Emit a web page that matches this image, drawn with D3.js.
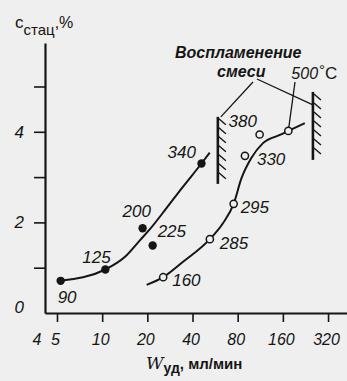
<!DOCTYPE html>
<html>
<head>
<meta charset="utf-8">
<script src="https://cdn.jsdelivr.net/npm/d3@7"></script>
<style>
  html, body { margin: 0; padding: 0; background: #efefef; }
  svg { display: block; }
  text { fill: #151515; font-family: "Liberation Sans", Arial, sans-serif; }
</style>
</head>
<body>
<svg id="chart" width="347" height="381"></svg>
<script>
// Flow-rate ticks (log2 axis), ml/min
const xTickValues = [4, 5, 10, 20, 40, 80, 160, 320];
const yTickValues = [1, 2, 3, 4, 5];
const yTickLabels = [0, 2, 4];

// Filled points: measured stationary concentration, labelled by temperature (°C)
const filledX = [5.29, 10.5, 18.6, 21.7, 45.9];
const filledY = [0.71, 0.96, 1.87, 1.49, 3.30];
const filledT = ["90", "125", "200", "225", "340"];

// Open points
const openX = [25.5, 52.2, 75.2, 89.4, 112, 174];
const openY = [0.79, 1.63, 2.41, 3.47, 3.94, 4.02];
const openT = ["160", "285", "295", "330", "380", "500"];

// Fitted curves through each data set
const curve1X = [5.29, 10.5, 14.2, 17.9, 20.8, 26.9, 34.6, 45.9, 52.1];
const curve1Y = [0.71, 0.96, 1.24, 1.61, 1.85, 2.32, 2.79, 3.30, 3.54];
const curve2X = [19.8, 25.5, 34.6, 52.2, 63.8, 75.2, 84.7, 98.6, 117.9, 152.8, 174, 224];
const curve2Y = [0.62, 0.79, 1.13, 1.63, 1.98, 2.41, 2.97, 3.42, 3.75, 3.93, 4.02, 4.19];

// Ignition boundaries (hatched walls): flow rate and c range
const wallX = [59.0, 253.7];
const wallYTop = [4.33, 4.88];
const wallYBottom = [2.85, 3.38];

const svg = d3.select("#chart");
const ink = "#151515";

const x = d3.scaleLog().base(2).domain([4.16, 428]).range([45, 347]);
const y = d3.scaleLinear().domain([0, 5.96]).range([313, 43]);

// Y axis
const yAxis = svg.append("g").attr("transform", "translate(45,0)")
  .call(d3.axisLeft(y).tickValues(yTickValues).tickSize(11).tickSizeOuter(0)
    .tickFormat(d => yTickLabels.includes(d) ? d : ""));
yAxis.select(".domain").attr("stroke", ink).attr("stroke-width", 2.2);
yAxis.selectAll(".tick line").attr("stroke", ink).attr("stroke-width", 1.6);
yAxis.selectAll(".tick text").attr("x", -21).attr("font-size", 17)
  .attr("font-style", "italic").attr("fill", ink);
// Zero label drawn at the origin
yAxis.append("text").attr("x", -21).attr("y", y(0) - 5).attr("dy", "0.32em")
  .attr("text-anchor", "end").attr("font-size", 17).attr("font-style", "italic").text("0");

// X axis
const xAxis = svg.append("g").attr("transform", "translate(0,313)")
  .call(d3.axisBottom(x).tickValues(xTickValues).tickSize(9).tickSizeOuter(0)
    .tickPadding(12).tickFormat(d3.format("d")));
xAxis.select(".domain").attr("stroke", ink).attr("stroke-width", 2.2);
xAxis.selectAll(".tick line").attr("stroke", ink).attr("stroke-width", 1.6)
  .filter(d => d === 4).remove();
xAxis.selectAll(".tick text").attr("font-size", 16).attr("font-style", "italic")
  .attr("fill", ink).attr("dx", d => d === 4 ? -6 : -2);

// Axis titles
const yTitle = svg.append("text").attr("x", 15).attr("y", 28).attr("font-size", 17);
yTitle.append("tspan").text("c");
yTitle.append("tspan").attr("dy", 7).attr("font-size", 15).text("стац");
yTitle.append("tspan").attr("dy", -7).attr("font-size", 16).text(",%");

const xTitle = svg.append("text").attr("x", 146).attr("y", 369).attr("font-size", 17);
xTitle.append("tspan").attr("font-style", "italic").attr("font-family", "DejaVu Serif, serif").text("W");
xTitle.append("tspan").attr("dy", 4).attr("font-size", 14).attr("font-weight", "bold").text("уд");
xTitle.append("tspan").attr("dy", -4).attr("font-size", 15).attr("font-weight", "bold").text(", мл/мин");

// Curves
const line = d3.line().x(d => x(d[0])).y(d => y(d[1])).curve(d3.curveMonotoneX);
[[curve1X, curve1Y], [curve2X, curve2Y]].forEach(([cx, cy]) => {
  svg.append("path").datum(cx.map((v, i) => [v, cy[i]]))
    .attr("d", line).attr("fill", "none").attr("stroke", ink).attr("stroke-width", 2);
});

// Hatched ignition walls
wallX.forEach((wx, i) => {
  const px = x(wx), y0 = y(wallYTop[i]), y1 = y(wallYBottom[i]);
  svg.append("line").attr("x1", px).attr("x2", px).attr("y1", y0).attr("y2", y1)
    .attr("stroke", ink).attr("stroke-width", 2.6);
  for (let hy = y0 + 2; hy < y1 - 4; hy += 9) {
    svg.append("line").attr("x1", px + 1).attr("y1", hy).attr("x2", px + 8).attr("y2", hy + 6)
      .attr("stroke", ink).attr("stroke-width", 1.4);
  }
});

// Leader lines from the annotations
const leaders = [
  [253, 82, x(wallX[0]) + 3, y(wallYTop[0])],
  [257, 79, x(wallX[1]), y(wallYTop[1]) + 13],
  [295, 82, x(openX[5]), y(openY[5])]
];
leaders.forEach(([ax, ay, bx, by]) => {
  svg.append("line").attr("x1", ax).attr("y1", ay).attr("x2", bx).attr("y2", by)
    .attr("stroke", ink).attr("stroke-width", 1.3);
});

// Points
svg.selectAll("circle.filled").data(filledX.map((v, i) => [v, filledY[i]]))
  .join("circle").attr("class", "filled")
  .attr("cx", d => x(d[0])).attr("cy", d => y(d[1])).attr("r", 4.2).attr("fill", ink);
svg.selectAll("circle.open").data(openX.map((v, i) => [v, openY[i]]))
  .join("circle").attr("class", "open")
  .attr("cx", d => x(d[0])).attr("cy", d => y(d[1])).attr("r", 3.6)
  .attr("fill", "#efefef").attr("stroke", ink).attr("stroke-width", 1.5);

// Temperature labels, offset from each point
const filledOffsets = [[-3, 16], [-23, -13], [-20, -17], [5, -15], [-34, -12]];
const openOffsets = [[9, 3], [10, 4], [7, 3], [12, 3], [-31, -14], [3, -58]];
function labels(xs, ys, ts, offs) {
  ts.forEach((t, i) => {
    svg.append("text").attr("x", x(xs[i]) + offs[i][0]).attr("y", y(ys[i]) + offs[i][1])
      .attr("dy", "0.36em").attr("font-size", i === 5 ? 16 : 17).attr("font-style", "italic").text(t);
  });
}
labels(filledX, filledY, filledT, filledOffsets);
labels(openX, openY, openT, openOffsets);
// Degree sign and unit next to the 500 label
const unit = svg.append("text").attr("x", 319).attr("y", 79).attr("font-size", 17);
unit.append("tspan").attr("dy", -4).attr("font-size", 15).text("°");
unit.append("tspan").attr("dy", 4).text("C");

// Annotation
svg.append("text").attr("x", 175).attr("y", 58).attr("font-size", 16)
  .attr("font-weight", "bold").attr("font-style", "italic").text("Воспламенение");
svg.append("text").attr("x", 217).attr("y", 77).attr("font-size", 16)
  .attr("font-weight", "bold").attr("font-style", "italic").text("смеси");
</script>
</body>
</html>
